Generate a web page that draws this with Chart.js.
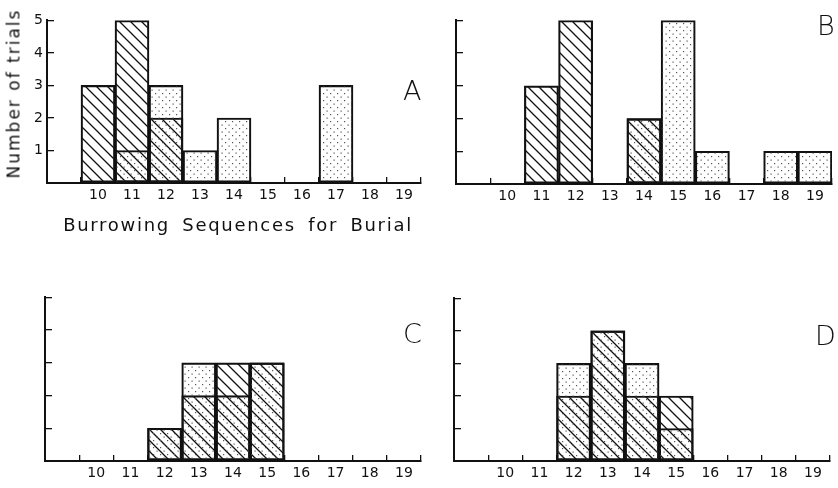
<!DOCTYPE html>
<html>
<head>
<meta charset="utf-8">
<script src="https://cdn.jsdelivr.net/npm/chart.js@4/dist/chart.umd.min.js"></script>
<style>
  body { margin: 0; background: #fff; }
  #wrap { position: relative; width: 838px; height: 488px; overflow: hidden; font-family: "DejaVu Sans", sans-serif; color: #111; }
  canvas { position: absolute; }
  .lbl { position: absolute; line-height: 1; white-space: nowrap; }
  .panel { font-size: 27px; font-weight: 200; }
</style>
</head>
<body>
<div id="wrap">
  <canvas id="cA"></canvas>
  <canvas id="cB"></canvas>
  <canvas id="cC"></canvas>
  <canvas id="cD"></canvas>
  <div class="lbl panel" style="left:403px; top:77px;">A</div>
  <div class="lbl panel" style="left:817px; top:12px;">B</div>
  <div class="lbl panel" style="left:403px; top:320px;">C</div>
  <div class="lbl panel" style="left:815px; top:322px;">D</div>
  <div class="lbl" id="xtitle" style="left:38px; width:400px; top:216px; text-align:center; font-size:18px; letter-spacing:1.7px; word-spacing:5px;">Burrowing Sequences for Burial</div>
  <div class="lbl" id="ytitle" style="left:-81px; width:190px; top:85px; text-align:center; font-size:17px; letter-spacing:2px; transform:rotate(-90deg);">Number of trials</div>
</div>
<script>
// bins: first slot is an empty one before 10
const bins = ["", "10", "11", "12", "13", "14", "15", "16", "17", "18", "19"];

const hatchA = [0, 3, 5, 2, 0, 0, 0, 0, 0, 0, 0];
const dotsA  = [0, 0, 1, 3, 1, 2, 0, 0, 3, 0, 0];
const hatchB = [0, 0, 3, 5, 0, 2, 0, 0, 0, 0, 0];
const dotsB  = [0, 0, 0, 0, 0, 2, 5, 1, 0, 1, 1];
const hatchC = [0, 0, 0, 1, 2, 3, 3, 0, 0, 0, 0];
const dotsC  = [0, 0, 0, 1, 3, 2, 3, 0, 0, 0, 0];
const hatchD = [0, 0, 0, 2, 4, 2, 2, 0, 0, 0, 0];
const dotsD  = [0, 0, 0, 3, 4, 3, 1, 0, 0, 0, 0];

const yTicks = [0, 1, 2, 3, 4, 5];

function makeHatch() {
  const s = 11;
  const c = document.createElement("canvas");
  c.width = s; c.height = s;
  const g = c.getContext("2d");
  g.strokeStyle = "#111";
  g.lineWidth = 1.3;
  g.beginPath();
  g.moveTo(-1, -1); g.lineTo(s + 1, s + 1);
  g.moveTo(-1, s - 1); g.lineTo(1, s + 1);
  g.moveTo(s - 1, -1); g.lineTo(s + 1, 1);
  g.stroke();
  return g.createPattern(c, "repeat");
}

function makeDots() {
  const s = 7;
  const c = document.createElement("canvas");
  c.width = s; c.height = s;
  const g = c.getContext("2d");
  g.fillStyle = "#555";
  g.fillRect(1, 1, 1.2, 1.2);
  g.fillRect(4.5, 4.5, 1.2, 1.2);
  return g.createPattern(c, "repeat");
}

const hatchFill = makeHatch();
const dotFill = makeDots();

// plot-area boxes for each panel (left, top, right, bottom)
const Y_W = 47, PAD_T = 10, X_H = 30, PAD_R = 4;

function drawPanel(id, area, hatch, dots, showYLabels) {
  const canvas = document.getElementById(id);
  const w = Y_W + (area[2] - area[0]) + PAD_R;
  const h = PAD_T + (area[3] - area[1]) + X_H;
  canvas.width = w; canvas.height = h;
  canvas.style.left = (area[0] - Y_W) + "px";
  canvas.style.top = (area[1] - PAD_T) + "px";

  const bar = (vals, fill) => ({
    data: vals.map((v) => v || null),
    backgroundColor: fill,
    borderColor: "#111",
    borderWidth: 1.5,
    borderSkipped: false,
    grouped: false,
    barPercentage: 1,
    categoryPercentage: 1
  });

  new Chart(canvas, {
    type: "bar",
    data: {
      labels: bins,
      datasets: [bar(dots, dotFill), bar(hatch, hatchFill)]
    },
    options: {
      responsive: false,
      animation: false,
      devicePixelRatio: 1,
      layout: { padding: { top: PAD_T, right: PAD_R, left: 0, bottom: 0 } },
      plugins: { legend: { display: false }, tooltip: { enabled: false } },
      scales: {
        x: {
          offset: true,
          grid: { offset: true, drawOnChartArea: false, tickLength: -6, color: "#111", lineWidth: 1.3 },
          border: { display: true, color: "#111", width: 2 },
          ticks: { color: "#111", padding: 10, maxRotation: 0, autoSkip: false, font: { family: "DejaVu Sans", size: 14 } },
          afterFit: (s) => { s.height = X_H; }
        },
        y: {
          min: 0,
          max: 5,
          afterBuildTicks: (s) => { s.ticks = yTicks.map((v) => ({ value: v })); },
          grid: { drawOnChartArea: false, tickLength: -7, color: "#111", lineWidth: 1.3 },
          border: { display: true, color: "#111", width: 2 },
          ticks: {
            color: "#111",
            padding: 11,
            font: { family: "DejaVu Sans", size: 14 },
            callback: (v) => (showYLabels && v !== 0 ? v : "")
          },
          afterFit: (s) => { s.width = Y_W; }
        }
      }
    }
  });
}

drawPanel("cA", [47, 11, 421, 183], hatchA, dotsA, true);
drawPanel("cB", [456, 11, 832, 184], hatchB, dotsB, false);
drawPanel("cC", [45, 288, 421, 461], hatchC, dotsC, false);
drawPanel("cD", [454, 289, 830, 461], hatchD, dotsD, false);
</script>
</body>
</html>
